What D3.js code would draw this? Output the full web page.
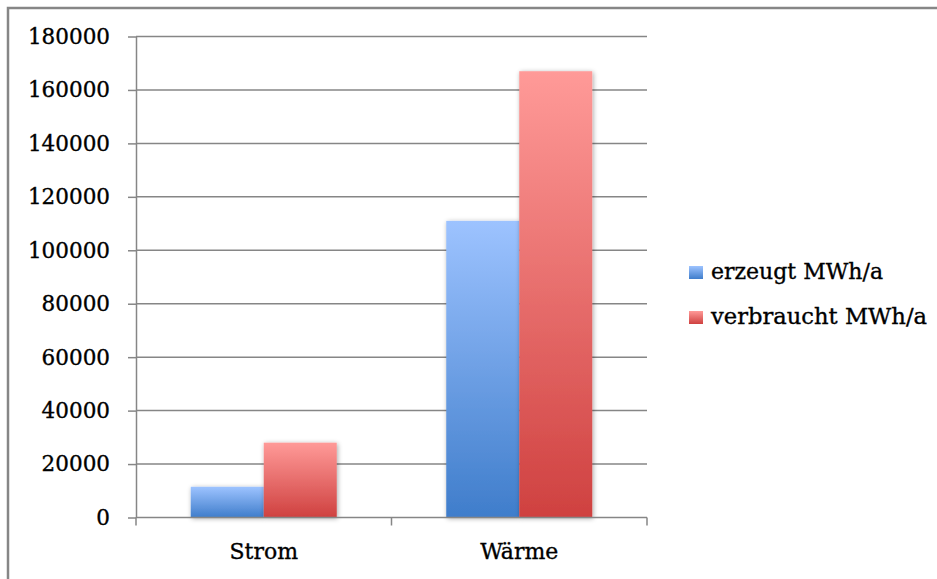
<!DOCTYPE html>
<html><head><meta charset="utf-8">
<script src="https://cdn.jsdelivr.net/npm/d3@7"></script>
<style>body{margin:0;background:#fff}svg{display:block}</style>
</head><body>
<svg id="c" width="937" height="579"></svg>
<script>
const categories = ["Strom", "Wärme"];
const seriesNames = ["erzeugt MWh/a", "verbraucht MWh/a"];
const erzeugt = [11500, 111000];
const verbraucht = [28000, 167000];
const yTicks = [0, 20000, 40000, 60000, 80000, 100000, 120000, 140000, 160000, 180000];

const svg = d3.select("#c");
const W = 937, H = 579;
const m = {left: 136, right: 647, top: 36.5, bottom: 517.5};
const grey = "#868686";
const font = "DejaVu Serif";

// outer frame
svg.append("path").attr("d", `M8,${H} L8,8 L${W},8`).attr("fill","none").attr("stroke",grey).attr("stroke-width",2.5);

const defs = svg.append("defs");
const grads = [["#9dc3ff","#3f7dcb"],["#ff9a98","#cf4140"]];
grads.forEach((g,i)=>{
  const lg = defs.append("linearGradient").attr("id","g"+i).attr("x1",0).attr("y1",0).attr("x2",0).attr("y2",1);
  lg.append("stop").attr("offset","0%").attr("stop-color",g[0]);
  lg.append("stop").attr("offset","100%").attr("stop-color",g[1]);
});
const f = defs.append("filter").attr("id","sh").attr("x","-20%").attr("y","-20%").attr("width","140%").attr("height","140%");
f.append("feGaussianBlur").attr("in","SourceAlpha").attr("stdDeviation",2.5).attr("result","b");
f.append("feOffset").attr("in","b").attr("dx",1).attr("dy",1).attr("result","o");
f.append("feComponentTransfer").attr("in","o").attr("result","o2").append("feFuncA").attr("type","linear").attr("slope",0.35);
const mg = f.append("feMerge"); mg.append("feMergeNode").attr("in","o2"); mg.append("feMergeNode").attr("in","SourceGraphic");

const y = d3.scaleLinear().domain([0,180000]).range([m.bottom, m.top]);
const x0 = d3.scaleBand().domain(categories).range([m.left, m.right]).paddingInner(0).paddingOuter(0);
const bw = x0.bandwidth()/3.5;
const x1 = d3.scaleBand().domain(seriesNames).range([0, 2*bw]);

// gridlines
svg.append("g").selectAll("line").data(yTicks.filter(d=>d>0)).join("line")
  .attr("x1", m.left).attr("x2", m.right).attr("y1", d=>y(d)).attr("y2", d=>y(d))
  .attr("stroke", grey).attr("stroke-width",1.5);

// y axis
const ya = svg.append("g").attr("transform",`translate(${m.left},0)`)
  .call(d3.axisLeft(y).tickValues(yTicks).tickSize(8).tickSizeOuter(0).tickFormat(d3.format("d")).tickPadding(18));
ya.select(".domain").attr("stroke",grey).attr("stroke-width",1.5);
ya.selectAll(".tick line").attr("stroke",grey).attr("stroke-width",1.5);
ya.selectAll("text").attr("font-family",font).attr("font-size",21.5).attr("fill","#000")
  .attr("stroke","#000").attr("stroke-width",0.35);

// bars
const series = [erzeugt, verbraucht];
const g = svg.append("g");
categories.forEach((c,ci)=>{
  series.forEach((s,si)=>{
    const x = x0(c) + (x0.bandwidth()-2*bw)/2 + x1(seriesNames[si]);
    g.append("rect").attr("x", x).attr("y", y(s[ci])).attr("width", x1.bandwidth())
      .attr("height", y(0)-y(s[ci])).attr("fill", `url(#g${si})`).attr("filter","url(#sh)");
  });
});

// x axis
const xa = svg.append("g").attr("transform",`translate(0,${m.bottom})`);
xa.append("line").attr("x1",m.left).attr("x2",m.right).attr("stroke",grey).attr("stroke-width",1.5);
const bounds = [m.left, ...categories.map(c=>x0(c)+x0.bandwidth())];
xa.selectAll("line.t").data(bounds).join("line").attr("class","t")
  .attr("x1",d=>d).attr("x2",d=>d).attr("y1",0).attr("y2",8).attr("stroke",grey).attr("stroke-width",1.5);
xa.selectAll("text").data(categories).join("text")
  .attr("x", d=>x0(d)+x0.bandwidth()/2).attr("y", 41).attr("text-anchor","middle")
  .attr("font-family",font).attr("font-size",22).attr("fill","#000")
  .attr("stroke","#000").attr("stroke-width",0.35).text(d=>d);

// legend
const lg = svg.append("g");
seriesNames.forEach((n,i)=>{
  const yy = 266 + i*45;
  lg.append("rect").attr("x",689).attr("y",yy).attr("width",14).attr("height",13).attr("fill",`url(#g${i})`);
  lg.append("text").attr("x",711).attr("y",yy+13).attr("font-family",font).attr("font-size",22)
    .attr("fill","#000").attr("stroke","#000").attr("stroke-width",0.35)
    .attr("textLength", i===0?172:216).attr("lengthAdjust","spacingAndGlyphs").text(n);
});
</script>
</body></html>
